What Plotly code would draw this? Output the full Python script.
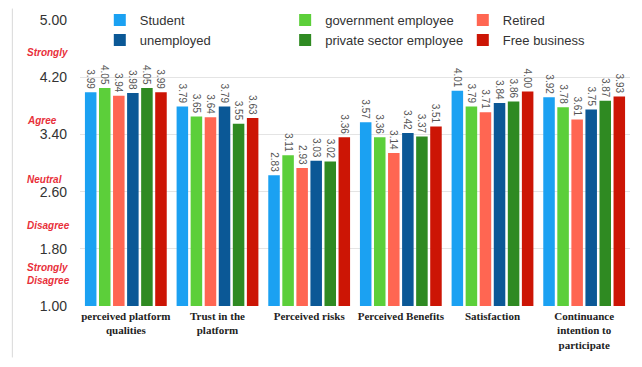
import plotly.graph_objects as go

categories = ["perceived platform<br>qualities", "Trust in the<br>platform", "Perceived risks",
              "Perceived Benefits", "Satisfaction", "Continuance<br>intention to<br>participate"]
series_names = ["Student", "government employee", "Retired",
                "unemployed", "private sector employee", "Free business"]
student = [3.99, 3.79, 2.83, 3.57, 4.01, 3.92]
government = [4.05, 3.65, 3.11, 3.36, 3.79, 3.78]
retired = [3.94, 3.64, 2.93, 3.14, 3.71, 3.61]
unemployed = [3.98, 3.79, 3.03, 3.42, 3.84, 3.75]
private = [4.05, 3.55, 3.02, 3.37, 3.86, 3.87]
free_business = [3.99, 3.63, 3.36, 3.51, 4.00, 3.93]
series_values = [student, government, retired, unemployed, private, free_business]
colors = ["#1ba1f2", "#5ccf3a", "#ff6652", "#0b5896", "#2f8a22", "#cc1505"]
legend_ids = ["legend", "legend2", "legend3", "legend", "legend2", "legend3"]

y_ticks = [1.0, 1.8, 2.6, 3.4, 4.2, 5.0]
scale_labels = ["Strongly", "Agree", "Neutral", "Disagree", "Strongly<br>Disagree"]
scale_label_y = [4.55, 3.60, 2.77, 2.13, 1.45]

fig = go.Figure()
for name, vals, col, lg in zip(series_names, series_values, colors, legend_ids):
    fig.add_trace(go.Bar(
        x=categories, y=vals, name=name, marker_color=col, marker_line_width=0,
        legend=lg,
        text=[f"{v:.2f}" for v in vals], textposition="outside", textangle=90,
        constraintext="none", cliponaxis=False,
        textfont=dict(family="Liberation Sans, Arial", size=10, color="#555555"),
    ))

for lab, yv in zip(scale_labels, scale_label_y):
    fig.add_annotation(text=f"<b><i>{lab}</i></b>", xref="paper", yref="y",
                       x=-0.1, y=yv, xanchor="left", yanchor="middle", showarrow=False,
                       align="left",
                       font=dict(family="Liberation Sans, Arial", size=10, color="#e8303a"))

# frame of the screenshot
fig.add_shape(type="line", xref="paper", yref="paper", x0=-0.123, x1=-0.123, y0=-0.18, y1=1.04,
              line=dict(color="#d8d8d8", width=1))

legend_style = dict(orientation="v", y=1.052, xanchor="left", yanchor="top", itemwidth=30,
                    font=dict(size=13, color="#333333"), bgcolor="rgba(0,0,0,0)",
                    tracegroupgap=0, traceorder="normal")

fig.update_layout(
    width=642, height=367,
    margin=dict(l=80, r=12, t=20, b=61, autoexpand=False),
    paper_bgcolor="white", plot_bgcolor="white",
    barmode="group", bargap=0.08, bargroupgap=0.18,
    font=dict(family="Liberation Sans, Arial", color="#333333"),
    legend=dict(x=0.036, **legend_style),
    legend2=dict(x=0.373, **legend_style),
    legend3=dict(x=0.696, **legend_style),
    showlegend=True,
)
fig.update_yaxes(range=[1, 5], tickvals=y_ticks, ticktext=[f"{v:.2f}" for v in y_ticks],
                 showgrid=True, gridcolor="#e4e4e4", gridwidth=1, zeroline=False,
                 tickfont=dict(size=14, color="#333333"), ticklabelstandoff=12,
                 showline=False)
fig.update_xaxes(tickvals=categories, ticktext=[f"<b>{c}</b>" for c in categories],
                 tickfont=dict(family="Liberation Serif, Times New Roman", size=11, color="#222222"),
                 tickangle=0, showline=False, ticks="", ticklabelstandoff=2)

fig.write_html("out.html")
